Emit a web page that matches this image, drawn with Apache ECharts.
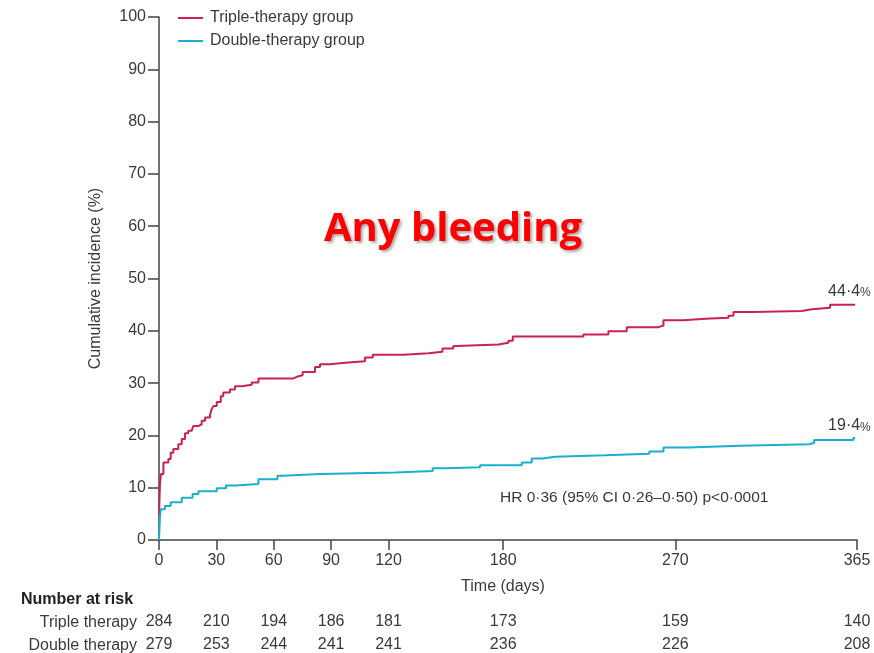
<!DOCTYPE html>
<html>
<head>
<meta charset="utf-8">
<script src="https://cdn.jsdelivr.net/npm/echarts@6/dist/echarts.min.js"></script>
<style>
html,body{margin:0;padding:0;background:#fff;}
#chart{width:874px;height:653px;}
</style>
</head>
<body>
<div id="chart"></div>
<script>
// ---- data ----
var seriesNames = ['Triple-therapy group', 'Double-therapy group'];
var tripleDays = [0, 0.5, 1.0, 2.3, 4.9, 6.1, 7.5, 10.1, 11.9, 13.6, 15.3, 17.1, 17.9, 20.6, 22.3, 24.1, 26.7, 27.5, 28.4, 30.2, 32.3, 33.6, 37.1, 39.7, 43.2, 48.5, 52.0, 70.3, 72.0, 75.1, 81.6, 84.2, 89.4, 97.3, 107.7, 111.8, 127.8, 140.9, 148.2, 153.9, 155.7, 177.5, 182.7, 185.0, 221.9, 235.0, 244.6, 261.2, 263.8, 274.2, 285.6, 297.8, 300.4, 310.8, 336.1, 341.4, 350.9, 364];
var tripleVals = [4.6, 10.7, 12.6, 14.8, 15.5, 16.7, 17.4, 18.3, 19.3, 20.4, 20.9, 21.2, 21.8, 22.1, 22.8, 23.4, 23.9, 25.0, 25.6, 26.4, 27.5, 28.2, 28.8, 29.4, 29.7, 30.1, 30.9, 31.2, 31.5, 32.1, 33.1, 33.6, 33.9, 34.2, 34.9, 35.4, 35.7, 36.0, 36.6, 37.1, 37.4, 37.7, 38.1, 38.9, 39.3, 39.9, 40.7, 41.0, 42.0, 42.3, 42.5, 42.9, 43.6, 43.8, 44.1, 44.4, 45.0, 45.0];
var doubleDays = [0, 0.5, 1.0, 3.1, 6.1, 11.9, 17.6, 20.6, 30.2, 35.0, 40.3, 52.0, 61.9, 64.7, 84.2, 123.4, 143.1, 150, 167.9, 189.7, 194.9, 200.7, 207.1, 233.3, 256.4, 263.8, 276.8, 303.9, 340.1, 342.6, 363.1, 364];
var doubleVals = [0, 4.6, 5.9, 6.5, 7.2, 8.1, 8.8, 9.3, 9.9, 10.4, 10.7, 11.6, 12.3, 12.6, 12.9, 13.2, 13.7, 13.9, 14.3, 14.8, 15.6, 15.9, 16.2, 16.5, 16.9, 17.7, 18.0, 18.3, 18.6, 19.1, 19.5, 19.5];
var endLabels = ['44·4', '19·4'];
var xTicks = [0, 30, 60, 90, 120, 180, 270, 365];
var yTicks = [0, 10, 20, 30, 40, 50, 60, 70, 80, 90, 100];
var riskTriple = [284, 210, 194, 186, 181, 173, 159, 140];
var riskDouble = [279, 253, 244, 241, 241, 236, 226, 208];
var riskRowNames = ['Triple therapy', 'Double therapy'];
var hrText = 'HR 0·36 (95% CI 0·26–0·50) p<0·0001';
var titleText = 'Any bleeding';

function pairs(xs, ys) { return xs.map(function (x, i) { return [x, ys[i]]; }); }
function riskFormatter(arr) {
  return function (v) { var i = xTicks.indexOf(v); return i >= 0 ? String(arr[i]) : ''; };
}

var FONT = '"Liberation Sans", Arial, sans-serif';
var TXT = '#3a3a3a';
var RED = '#c8234f';
var CYAN = '#1aaed0';

var chart = echarts.init(document.getElementById('chart'));
var baseX = {
  type: 'value', min: 0, max: 365, gridIndex: 0,
  splitLine: { show: false }
};
chart.setOption({
  animation: false,
  backgroundColor: '#fff',
  textStyle: { fontFamily: FONT },
  title: {
    text: titleText, left: 448, top: 205, textAlign: 'center',
    textStyle: {
      fontFamily: '"Open Sans", sans-serif', fontWeight: 'bold', fontSize: 40, color: '#ff0000',
      textShadowColor: 'rgba(0,0,0,0.35)', textShadowBlur: 3, textShadowOffsetX: 2, textShadowOffsetY: 2
    }
  },
  legend: {
    orient: 'vertical', left: 178, top: 10, itemGap: 7, padding: 0,
    itemWidth: 25, itemHeight: 2, icon: 'rect',
    textStyle: { fontFamily: FONT, fontSize: 16, color: TXT, padding: [0, 0, 0, 2] },
    data: seriesNames
  },
  grid: { left: 159, right: 17, top: 17, bottom: 112, containLabel: false },
  xAxis: [
    Object.assign({}, baseX, {
      name: 'Time (days)', nameLocation: 'middle', nameGap: 39,
      nameTextStyle: { fontFamily: FONT, fontSize: 16, color: TXT, padding: [0, 10, 0, 0] },
      axisLine: { lineStyle: { color: '#444', width: 1.5 } },
      axisTick: { show: true, length: 10, customValues: xTicks, lineStyle: { color: '#444', width: 1.5 } },
      axisLabel: { customValues: xTicks, margin: 13, fontSize: 16, color: TXT, fontFamily: FONT }
    }),
    Object.assign({}, baseX, {
      position: 'bottom',
      axisLine: { show: false }, axisTick: { show: false },
      axisLabel: { customValues: xTicks, margin: 74, fontSize: 16, color: TXT, fontFamily: FONT, formatter: riskFormatter(riskTriple) }
    }),
    Object.assign({}, baseX, {
      position: 'bottom',
      axisLine: { show: false }, axisTick: { show: false },
      axisLabel: { customValues: xTicks, margin: 97, fontSize: 16, color: TXT, fontFamily: FONT, formatter: riskFormatter(riskDouble) }
    })
  ],
  yAxis: {
    type: 'value', min: 0, max: 100, interval: 10,
    name: 'Cumulative incidence (%)', nameLocation: 'middle', nameGap: 55, nameRotate: 90,
    nameTextStyle: { fontFamily: FONT, fontSize: 16, color: TXT },
    splitLine: { show: false },
    axisLine: { show: true, lineStyle: { color: '#444', width: 1.5 } },
    axisTick: { show: true, length: 11, lineStyle: { color: '#444', width: 1.5 } },
    axisLabel: { margin: 13, fontSize: 16, color: TXT, fontFamily: FONT, customValues: yTicks }
  },
  series: [
    {
      name: seriesNames[0], type: 'line', step: 'end', xAxisIndex: 0,
      data: pairs(tripleDays, tripleVals), showSymbol: false, symbol: 'none',
      lineStyle: { color: RED, width: 2 }, itemStyle: { color: RED },
      endLabel: {
        show: true, offset: [-35, -13],
        formatter: function () { return '{a|' + endLabels[0] + '}{b|%}'; },
        rich: { a: { fontFamily: FONT, fontSize: 16, color: TXT }, b: { fontFamily: FONT, fontSize: 12, color: TXT, padding: [3, 0, 0, 0] } }
      }
    },
    {
      name: seriesNames[1], type: 'line', step: 'end', xAxisIndex: 0,
      data: pairs(doubleDays, doubleVals), showSymbol: false, symbol: 'none',
      lineStyle: { color: CYAN, width: 2 }, itemStyle: { color: CYAN },
      endLabel: {
        show: true, offset: [-35, -12],
        formatter: function () { return '{a|' + endLabels[1] + '}{b|%}'; },
        rich: { a: { fontFamily: FONT, fontSize: 16, color: TXT }, b: { fontFamily: FONT, fontSize: 12, color: TXT, padding: [3, 0, 0, 0] } }
      }
    }
  ],
  graphic: [
    { type: 'text', left: 500, top: 490, style: { text: hrText, font: '15.5px ' + FONT, fill: TXT } },
    { type: 'text', left: 21, top: 592, style: { text: 'Number at risk', font: 'bold 16px ' + FONT, fill: '#222' } },
    { type: 'text', right: 737, top: 615, style: { text: riskRowNames[0], font: '16px ' + FONT, fill: TXT } },
    { type: 'text', right: 737, top: 638, style: { text: riskRowNames[1], font: '16px ' + FONT, fill: TXT } }
  ]
});
</script>
</body>
</html>
